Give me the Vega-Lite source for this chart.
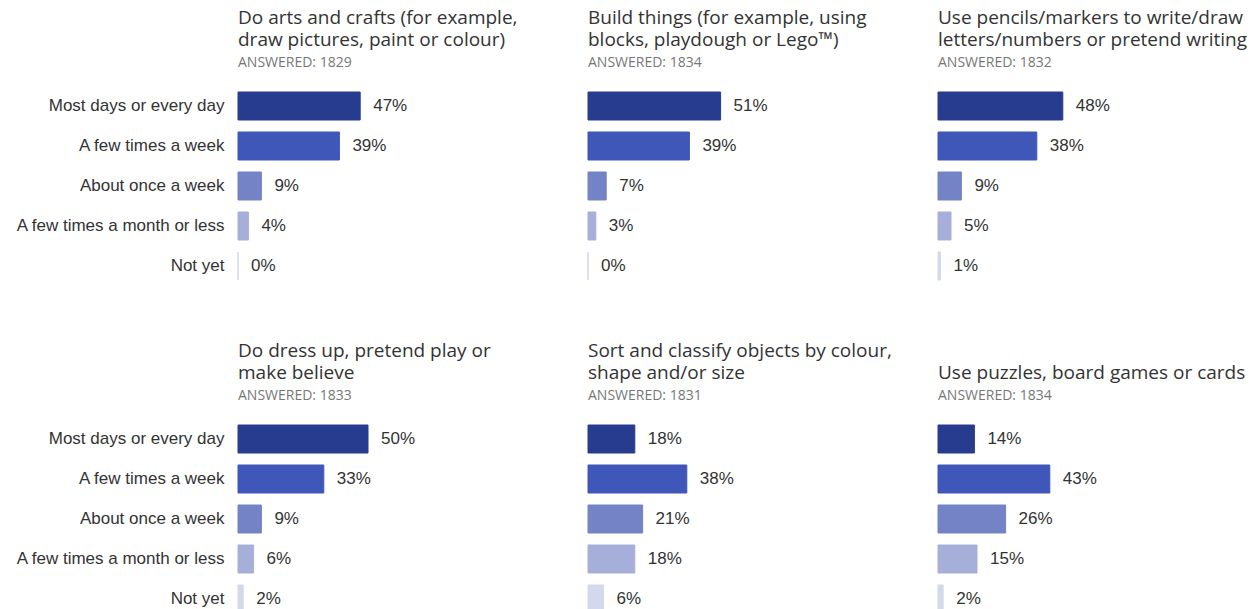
{
  "$schema": "https://vega.github.io/schema/vega-lite/v6.json",
  "padding": {"left": 15, "top": 9, "right": 0, "bottom": 0},
  "background": "white",
  "bounds": "flush",
  "columns": 3,
  "spacing": {"row": 133, "column": 90},
  "data": {"values": [
    {"panel": 1, "freq": "Most days or every day", "pct": 0.47},
    {"panel": 1, "freq": "A few times a week", "pct": 0.39},
    {"panel": 1, "freq": "About once a week", "pct": 0.09},
    {"panel": 1, "freq": "A few times a month or less", "pct": 0.04},
    {"panel": 1, "freq": "Not yet", "pct": 0.0},
    {"panel": 2, "freq": "Most days or every day", "pct": 0.51},
    {"panel": 2, "freq": "A few times a week", "pct": 0.39},
    {"panel": 2, "freq": "About once a week", "pct": 0.07},
    {"panel": 2, "freq": "A few times a month or less", "pct": 0.03},
    {"panel": 2, "freq": "Not yet", "pct": 0.0},
    {"panel": 3, "freq": "Most days or every day", "pct": 0.48},
    {"panel": 3, "freq": "A few times a week", "pct": 0.38},
    {"panel": 3, "freq": "About once a week", "pct": 0.09},
    {"panel": 3, "freq": "A few times a month or less", "pct": 0.05},
    {"panel": 3, "freq": "Not yet", "pct": 0.01},
    {"panel": 4, "freq": "Most days or every day", "pct": 0.50},
    {"panel": 4, "freq": "A few times a week", "pct": 0.33},
    {"panel": 4, "freq": "About once a week", "pct": 0.09},
    {"panel": 4, "freq": "A few times a month or less", "pct": 0.06},
    {"panel": 4, "freq": "Not yet", "pct": 0.02},
    {"panel": 5, "freq": "Most days or every day", "pct": 0.18},
    {"panel": 5, "freq": "A few times a week", "pct": 0.38},
    {"panel": 5, "freq": "About once a week", "pct": 0.21},
    {"panel": 5, "freq": "A few times a month or less", "pct": 0.18},
    {"panel": 5, "freq": "Not yet", "pct": 0.06},
    {"panel": 6, "freq": "Most days or every day", "pct": 0.14},
    {"panel": 6, "freq": "A few times a week", "pct": 0.43},
    {"panel": 6, "freq": "About once a week", "pct": 0.26},
    {"panel": 6, "freq": "A few times a month or less", "pct": 0.15},
    {"panel": 6, "freq": "Not yet", "pct": 0.02}
  ]},
  "concat": [
    {
      "title": {"text": ["Do arts and crafts (for example,", "draw pictures, paint or colour)"], "subtitle": "ANSWERED: 1829"},
      "width": 260, "height": 200,
      "transform": [{"filter": "datum.panel == 1"}],
      "encoding": {
        "y": {"field": "freq", "type": "nominal", "title": null, "sort": ["Most days or every day", "A few times a week", "About once a week", "A few times a month or less", "Not yet"]},
        "x": {"field": "pct", "type": "quantitative", "scale": {"domain": [0, 1]}, "axis": null}
      },
      "layer": [
        {"mark": {"type": "bar", "strokeWidth": 1}, "encoding": {
          "color": {"field": "freq", "type": "nominal", "legend": null, "scale": {"domain": ["Most days or every day", "A few times a week", "About once a week", "A few times a month or less", "Not yet"], "range": ["#283c8f", "#3e57b9", "#7383c6", "#a5afd9", "#d4d8eb"]}},
          "stroke": {"field": "freq", "type": "nominal", "legend": null, "scale": {"domain": ["Most days or every day", "A few times a week", "About once a week", "A few times a month or less", "Not yet"], "range": ["#283c8f", "#3e57b9", "#7383c6", "#a5afd9", "#d4d8eb"]}}
        }},
        {"mark": {"type": "text", "align": "left", "dx": 13, "font": "Liberation Sans", "fontSize": 17, "color": "#333333"}, "encoding": {"text": {"field": "pct", "type": "quantitative", "format": ".0%"}}}
      ]
    },
    {
      "title": {"text": ["Build things (for example, using", "blocks, playdough or Lego™)"], "subtitle": "ANSWERED: 1834"},
      "width": 260, "height": 200,
      "transform": [{"filter": "datum.panel == 2"}],
      "encoding": {
        "y": {"field": "freq", "type": "nominal", "title": null, "axis": null, "sort": ["Most days or every day", "A few times a week", "About once a week", "A few times a month or less", "Not yet"]},
        "x": {"field": "pct", "type": "quantitative", "scale": {"domain": [0, 1]}, "axis": null}
      },
      "layer": [
        {"mark": {"type": "bar", "strokeWidth": 1}, "encoding": {
          "color": {"field": "freq", "type": "nominal", "legend": null, "scale": {"domain": ["Most days or every day", "A few times a week", "About once a week", "A few times a month or less", "Not yet"], "range": ["#283c8f", "#3e57b9", "#7383c6", "#a5afd9", "#d4d8eb"]}},
          "stroke": {"field": "freq", "type": "nominal", "legend": null, "scale": {"domain": ["Most days or every day", "A few times a week", "About once a week", "A few times a month or less", "Not yet"], "range": ["#283c8f", "#3e57b9", "#7383c6", "#a5afd9", "#d4d8eb"]}}
        }},
        {"mark": {"type": "text", "align": "left", "dx": 13, "font": "Liberation Sans", "fontSize": 17, "color": "#333333"}, "encoding": {"text": {"field": "pct", "type": "quantitative", "format": ".0%"}}}
      ]
    },
    {
      "title": {"text": ["Use pencils/markers to write/draw", "letters/numbers or pretend writing"], "subtitle": "ANSWERED: 1832"},
      "width": 260, "height": 200,
      "transform": [{"filter": "datum.panel == 3"}],
      "encoding": {
        "y": {"field": "freq", "type": "nominal", "title": null, "axis": null, "sort": ["Most days or every day", "A few times a week", "About once a week", "A few times a month or less", "Not yet"]},
        "x": {"field": "pct", "type": "quantitative", "scale": {"domain": [0, 1]}, "axis": null}
      },
      "layer": [
        {"mark": {"type": "bar", "strokeWidth": 1}, "encoding": {
          "color": {"field": "freq", "type": "nominal", "legend": null, "scale": {"domain": ["Most days or every day", "A few times a week", "About once a week", "A few times a month or less", "Not yet"], "range": ["#283c8f", "#3e57b9", "#7383c6", "#a5afd9", "#d4d8eb"]}},
          "stroke": {"field": "freq", "type": "nominal", "legend": null, "scale": {"domain": ["Most days or every day", "A few times a week", "About once a week", "A few times a month or less", "Not yet"], "range": ["#283c8f", "#3e57b9", "#7383c6", "#a5afd9", "#d4d8eb"]}}
        }},
        {"mark": {"type": "text", "align": "left", "dx": 13, "font": "Liberation Sans", "fontSize": 17, "color": "#333333"}, "encoding": {"text": {"field": "pct", "type": "quantitative", "format": ".0%"}}}
      ]
    },
    {
      "title": {"text": ["Do dress up, pretend play or", "make believe"], "subtitle": "ANSWERED: 1833"},
      "width": 260, "height": 200,
      "transform": [{"filter": "datum.panel == 4"}],
      "encoding": {
        "y": {"field": "freq", "type": "nominal", "title": null, "sort": ["Most days or every day", "A few times a week", "About once a week", "A few times a month or less", "Not yet"]},
        "x": {"field": "pct", "type": "quantitative", "scale": {"domain": [0, 1]}, "axis": null}
      },
      "layer": [
        {"mark": {"type": "bar", "strokeWidth": 1}, "encoding": {
          "color": {"field": "freq", "type": "nominal", "legend": null, "scale": {"domain": ["Most days or every day", "A few times a week", "About once a week", "A few times a month or less", "Not yet"], "range": ["#283c8f", "#3e57b9", "#7383c6", "#a5afd9", "#d4d8eb"]}},
          "stroke": {"field": "freq", "type": "nominal", "legend": null, "scale": {"domain": ["Most days or every day", "A few times a week", "About once a week", "A few times a month or less", "Not yet"], "range": ["#283c8f", "#3e57b9", "#7383c6", "#a5afd9", "#d4d8eb"]}}
        }},
        {"mark": {"type": "text", "align": "left", "dx": 13, "font": "Liberation Sans", "fontSize": 17, "color": "#333333"}, "encoding": {"text": {"field": "pct", "type": "quantitative", "format": ".0%"}}}
      ]
    },
    {
      "title": {"text": ["Sort and classify objects by colour,", "shape and/or size"], "subtitle": "ANSWERED: 1831"},
      "width": 260, "height": 200,
      "transform": [{"filter": "datum.panel == 5"}],
      "encoding": {
        "y": {"field": "freq", "type": "nominal", "title": null, "axis": null, "sort": ["Most days or every day", "A few times a week", "About once a week", "A few times a month or less", "Not yet"]},
        "x": {"field": "pct", "type": "quantitative", "scale": {"domain": [0, 1]}, "axis": null}
      },
      "layer": [
        {"mark": {"type": "bar", "strokeWidth": 1}, "encoding": {
          "color": {"field": "freq", "type": "nominal", "legend": null, "scale": {"domain": ["Most days or every day", "A few times a week", "About once a week", "A few times a month or less", "Not yet"], "range": ["#283c8f", "#3e57b9", "#7383c6", "#a5afd9", "#d4d8eb"]}},
          "stroke": {"field": "freq", "type": "nominal", "legend": null, "scale": {"domain": ["Most days or every day", "A few times a week", "About once a week", "A few times a month or less", "Not yet"], "range": ["#283c8f", "#3e57b9", "#7383c6", "#a5afd9", "#d4d8eb"]}}
        }},
        {"mark": {"type": "text", "align": "left", "dx": 13, "font": "Liberation Sans", "fontSize": 17, "color": "#333333"}, "encoding": {"text": {"field": "pct", "type": "quantitative", "format": ".0%"}}}
      ]
    },
    {
      "title": {"text": ["Use puzzles, board games or cards"], "subtitle": "ANSWERED: 1834"},
      "width": 260, "height": 200,
      "transform": [{"filter": "datum.panel == 6"}],
      "encoding": {
        "y": {"field": "freq", "type": "nominal", "title": null, "axis": null, "sort": ["Most days or every day", "A few times a week", "About once a week", "A few times a month or less", "Not yet"]},
        "x": {"field": "pct", "type": "quantitative", "scale": {"domain": [0, 1]}, "axis": null}
      },
      "layer": [
        {"mark": {"type": "bar", "strokeWidth": 1}, "encoding": {
          "color": {"field": "freq", "type": "nominal", "legend": null, "scale": {"domain": ["Most days or every day", "A few times a week", "About once a week", "A few times a month or less", "Not yet"], "range": ["#283c8f", "#3e57b9", "#7383c6", "#a5afd9", "#d4d8eb"]}},
          "stroke": {"field": "freq", "type": "nominal", "legend": null, "scale": {"domain": ["Most days or every day", "A few times a week", "About once a week", "A few times a month or less", "Not yet"], "range": ["#283c8f", "#3e57b9", "#7383c6", "#a5afd9", "#d4d8eb"]}}
        }},
        {"mark": {"type": "text", "align": "left", "dx": 13, "font": "Liberation Sans", "fontSize": 17, "color": "#333333"}, "encoding": {"text": {"field": "pct", "type": "quantitative", "format": ".0%"}}}
      ]
    }
  ],
  "config": {
    "view": {"stroke": null},
    "scale": {"bandPaddingInner": 0.3},
    "axis": {"domain": false, "ticks": false, "grid": false, "labelFont": "Liberation Sans", "labelFontSize": 17, "labelColor": "#333333", "labelPadding": 14, "labelLimit": 400},
    "title": {"font": "Open Sans", "fontSize": 19, "fontWeight": "normal", "color": "#333333", "anchor": "start", "frame": "group", "lineHeight": 22, "subtitleFont": "Open Sans", "subtitleFontSize": 14, "subtitleColor": "#777777", "subtitlePadding": 6, "offset": 16}
  }
}
